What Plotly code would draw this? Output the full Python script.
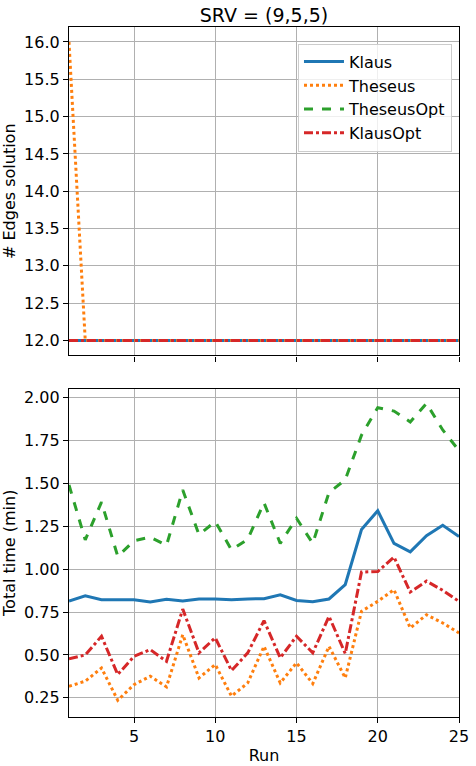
import plotly.graph_objects as go
from plotly.subplots import make_subplots

runs = list(range(1, 26))

# Top panel: number of edges in solution
edges_klaus = [12] * 25
edges_theseus = [16] + [12] * 24
edges_theseus_opt = [12] * 25
edges_klaus_opt = [12] * 25

# Bottom panel: total time (min)
time_klaus = [0.814, 0.845, 0.822, 0.822, 0.822, 0.808, 0.824, 0.814, 0.826, 0.826,
              0.822, 0.826, 0.828, 0.85, 0.817, 0.81, 0.826, 0.91, 1.23, 1.34,
              1.15, 1.10, 1.195, 1.255, 1.19]
time_theseus = [0.318, 0.347, 0.424, 0.236, 0.327, 0.376, 0.314, 0.618, 0.366, 0.444,
                0.26, 0.337, 0.55, 0.337, 0.454, 0.333, 0.55, 0.366, 0.754, 0.812,
                0.88, 0.657, 0.734, 0.686, 0.628]
time_theseus_opt = [1.49, 1.17, 1.39, 1.074, 1.165, 1.186, 1.138, 1.461, 1.20, 1.277,
                    1.112, 1.174, 1.386, 1.15, 1.296, 1.15, 1.446, 1.52, 1.78, 1.94,
                    1.92, 1.857, 1.965, 1.81, 1.69]
time_klaus_opt = [0.477, 0.50, 0.609, 0.386, 0.492, 0.531, 0.463, 0.767, 0.512, 0.60,
                  0.409, 0.512, 0.70, 0.483, 0.609, 0.512, 0.725, 0.508, 0.983, 0.986,
                  1.07, 0.866, 0.93, 0.876, 0.812]

series = [
    ("Klaus", "#1f77b4", "solid", edges_klaus, time_klaus),
    ("Theseus", "#ff7f0e", "dot", edges_theseus, time_theseus),
    ("TheseusOpt", "#2ca02c", "dash", edges_theseus_opt, time_theseus_opt),
    ("KlausOpt", "#d62728", "dashdot", edges_klaus_opt, time_klaus_opt),
]

fig = make_subplots(rows=2, cols=1, shared_xaxes=True, vertical_spacing=0.048)

for name, color, dash, top, bottom in series:
    fig.add_trace(go.Scatter(x=runs, y=top, mode="lines", name=name,
                             line=dict(color=color, dash=dash, width=3),
                             legendgroup=name, showlegend=True), row=1, col=1)
    fig.add_trace(go.Scatter(x=runs, y=bottom, mode="lines", name=name,
                             line=dict(color=color, dash=dash, width=3),
                             legendgroup=name, showlegend=False), row=2, col=1)

font = dict(family="DejaVu Sans", size=16, color="black")
axis_common = dict(showline=True, linecolor="black", linewidth=1.2, mirror=True,
                   ticks="outside", ticklen=5, tickcolor="black",
                   showgrid=True, gridcolor="#b0b0b0", gridwidth=1,
                   zeroline=False, tickfont=font, automargin=False)

fig.update_xaxes(**axis_common, range=[1, 25], tickvals=[5, 10, 15, 20, 25])
fig.update_xaxes(showticklabels=False, row=1, col=1)
fig.update_xaxes(title=dict(text="Run", font=font, standoff=4), row=2, col=1)
fig.update_yaxes(**axis_common)
fig.update_yaxes(range=[11.8, 16.2], tickvals=[12 + 0.5 * i for i in range(9)],
                 tickformat=".1f",
                 title=dict(text="# Edges solution", font=font, standoff=6), row=1, col=1)
fig.update_yaxes(range=[0.1386, 2.0514], tickvals=[0.25 * i for i in range(1, 9)],
                 tickformat=".2f",
                 title=dict(text="Total time (min)", font=font, standoff=6), row=2, col=1)

fig.update_layout(
    width=476, height=766,
    margin=dict(l=69, r=17, t=27, b=49, autoexpand=False),
    paper_bgcolor="white", plot_bgcolor="white",
    font=font,
    title=dict(text="SRV = (9,5,5)", xref="paper", x=0.5, xanchor="center",
               yref="container", y=0.980, yanchor="middle",
               font=dict(family="DejaVu Sans", size=19, color="black")),
    legend=dict(x=0.982, y=0.976, xanchor="right", yanchor="top",
                bgcolor="rgba(255,255,255,0.8)", bordercolor="#cccccc", borderwidth=1,
                font=font, tracegroupgap=0, itemwidth=40),
)

fig.write_html("out.html", config={"displayModeBar": False},
               post_script="document.body.style.margin='0';")
